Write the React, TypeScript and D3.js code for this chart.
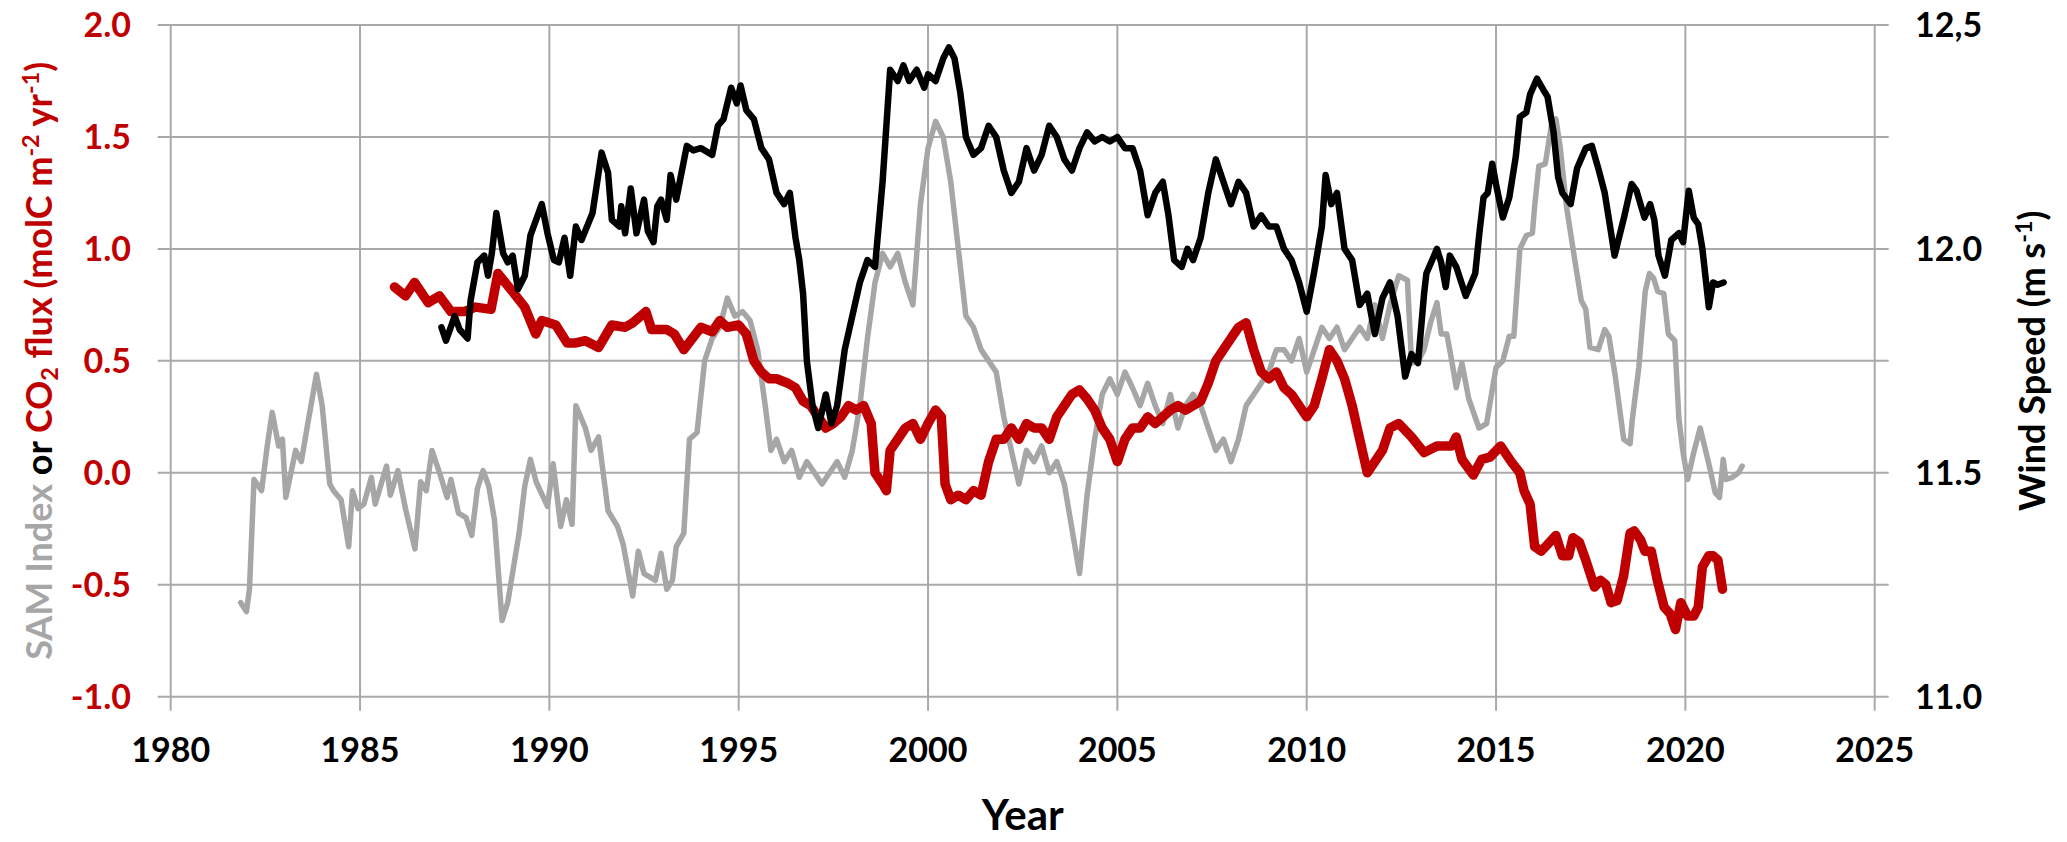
import React from "react";
import * as d3 from "d3";

// ---- Data ----
const yearTicks = [1980, 1985, 1990, 1995, 2000, 2005, 2010, 2015, 2020, 2025];
const leftTicks = [-1.0, -0.5, 0.0, 0.5, 1.0, 1.5, 2.0];
const rightTicks = [11.0, 11.5, 12.0, 12.5];
const rightTickLabels = ["11.0", "11.5", "12.0", "12,5"];

// SAM index (left axis)
const samSeries: [number, number][] = [
  [1981.85, -0.58], [1982.0, -0.62], [1982.08, -0.52], [1982.2, -0.03], [1982.4, -0.08],
  [1982.55, 0.12], [1982.68, 0.27], [1982.85, 0.12], [1982.95, 0.15], [1983.04, -0.11],
  [1983.2, 0.02], [1983.3, 0.1], [1983.45, 0.05], [1983.6, 0.2], [1983.85, 0.44],
  [1984.0, 0.3], [1984.2, -0.05], [1984.3, -0.08], [1984.5, -0.12], [1984.7, -0.33],
  [1984.8, -0.08], [1984.95, -0.16], [1985.1, -0.14], [1985.3, -0.02], [1985.4, -0.14],
  [1985.7, 0.03], [1985.8, -0.1], [1986.0, 0.01], [1986.2, -0.16], [1986.45, -0.34],
  [1986.6, -0.04], [1986.75, -0.08], [1986.9, 0.1], [1987.1, 0.0], [1987.3, -0.11],
  [1987.4, -0.03], [1987.6, -0.18], [1987.8, -0.2], [1987.95, -0.28], [1988.1, -0.07],
  [1988.25, 0.01], [1988.4, -0.06], [1988.55, -0.21], [1988.75, -0.66], [1988.9, -0.58],
  [1989.2, -0.27], [1989.35, -0.06], [1989.5, 0.06], [1989.65, -0.04], [1989.95, -0.15],
  [1990.1, 0.04], [1990.3, -0.24], [1990.45, -0.12], [1990.6, -0.23], [1990.7, 0.3],
  [1990.95, 0.2], [1991.1, 0.1], [1991.3, 0.16], [1991.55, -0.17], [1991.8, -0.24],
  [1991.95, -0.32], [1992.2, -0.55], [1992.35, -0.35], [1992.5, -0.45], [1992.8, -0.48],
  [1992.95, -0.36], [1993.1, -0.52], [1993.25, -0.48], [1993.35, -0.33], [1993.55, -0.27],
  [1993.7, 0.15], [1993.9, 0.18], [1994.1, 0.5], [1994.3, 0.6], [1994.5, 0.65],
  [1994.7, 0.78], [1994.9, 0.7], [1995.1, 0.72], [1995.3, 0.68], [1995.5, 0.55],
  [1995.7, 0.3], [1995.85, 0.1], [1996.0, 0.15], [1996.2, 0.05], [1996.4, 0.1],
  [1996.6, -0.02], [1996.8, 0.05], [1997.0, 0.0], [1997.2, -0.05], [1997.4, 0.0],
  [1997.6, 0.05], [1997.8, -0.02], [1998.0, 0.1], [1998.2, 0.3], [1998.4, 0.6],
  [1998.6, 0.85], [1998.8, 0.98], [1999.0, 0.92], [1999.2, 0.98], [1999.4, 0.85],
  [1999.6, 0.75], [1999.8, 1.2], [2000.0, 1.45], [2000.2, 1.57], [2000.4, 1.5],
  [2000.6, 1.3], [2000.8, 1.0], [2001.0, 0.7], [2001.2, 0.65], [2001.4, 0.55],
  [2001.6, 0.5], [2001.8, 0.45], [2002.0, 0.25], [2002.2, 0.1], [2002.4, -0.05],
  [2002.6, 0.1], [2002.8, 0.05], [2003.0, 0.12], [2003.2, 0.0], [2003.4, 0.05],
  [2003.6, -0.05], [2003.8, -0.25], [2004.0, -0.45], [2004.2, -0.1], [2004.4, 0.15],
  [2004.6, 0.35], [2004.8, 0.42], [2005.0, 0.35], [2005.2, 0.45], [2005.4, 0.38],
  [2005.6, 0.3], [2005.8, 0.4], [2006.0, 0.3], [2006.2, 0.22], [2006.4, 0.35],
  [2006.6, 0.2], [2006.8, 0.3], [2007.0, 0.35], [2007.2, 0.3], [2007.4, 0.2],
  [2007.6, 0.1], [2007.8, 0.15], [2008.0, 0.05], [2008.2, 0.15], [2008.4, 0.3],
  [2008.6, 0.35], [2008.8, 0.4], [2009.0, 0.45], [2009.2, 0.55], [2009.4, 0.55],
  [2009.6, 0.5], [2009.8, 0.6], [2010.0, 0.45], [2010.2, 0.55], [2010.4, 0.65],
  [2010.6, 0.6], [2010.8, 0.65], [2011.0, 0.55], [2011.2, 0.6], [2011.4, 0.65],
  [2011.6, 0.6], [2011.8, 0.75], [2012.0, 0.6], [2012.2, 0.75], [2012.43, 0.88],
  [2012.66, 0.86], [2012.77, 0.49], [2012.95, 0.5], [2013.1, 0.55], [2013.27, 0.67],
  [2013.44, 0.76], [2013.55, 0.62], [2013.7, 0.62], [2013.83, 0.5], [2013.95, 0.38],
  [2014.1, 0.49], [2014.28, 0.33], [2014.55, 0.2], [2014.75, 0.22], [2015.0, 0.47],
  [2015.18, 0.5], [2015.35, 0.61], [2015.47, 0.61], [2015.63, 1.0], [2015.8, 1.06],
  [2015.96, 1.07], [2016.02, 1.19], [2016.13, 1.37], [2016.3, 1.38], [2016.47, 1.56],
  [2016.58, 1.58], [2016.69, 1.46], [2016.86, 1.19], [2017.08, 0.95], [2017.25, 0.77],
  [2017.37, 0.73], [2017.48, 0.56], [2017.7, 0.55], [2017.87, 0.64], [2017.98, 0.61],
  [2018.15, 0.43], [2018.37, 0.15], [2018.54, 0.13], [2018.6, 0.24], [2018.77, 0.47],
  [2018.94, 0.81], [2019.05, 0.89], [2019.16, 0.87], [2019.27, 0.81], [2019.43, 0.8],
  [2019.55, 0.62], [2019.72, 0.59], [2019.83, 0.24], [2019.94, 0.09], [2020.06, -0.03],
  [2020.22, 0.09], [2020.39, 0.2], [2020.62, 0.04], [2020.79, -0.09], [2020.9, -0.11],
  [2021.0, 0.06], [2021.07, -0.03], [2021.24, -0.02], [2021.4, 0.0], [2021.5, 0.03],
];

// CO2 flux (left axis)
const co2Series: [number, number][] = [
  [1985.91, 0.83], [1986.2, 0.79], [1986.44, 0.85], [1986.8, 0.76], [1987.1, 0.79],
  [1987.4, 0.72], [1987.75, 0.72], [1988.05, 0.74], [1988.46, 0.73], [1988.64, 0.89],
  [1988.93, 0.83], [1989.35, 0.74], [1989.64, 0.62], [1989.8, 0.68], [1990.17, 0.66],
  [1990.47, 0.58], [1990.7, 0.58], [1990.95, 0.59], [1991.3, 0.56], [1991.65, 0.66],
  [1992.0, 0.65], [1992.2, 0.67], [1992.55, 0.72], [1992.7, 0.64], [1993.1, 0.64],
  [1993.3, 0.62], [1993.55, 0.55], [1994.0, 0.65], [1994.3, 0.63], [1994.5, 0.68],
  [1994.7, 0.65], [1995.0, 0.66], [1995.2, 0.62], [1995.4, 0.5], [1995.6, 0.45],
  [1995.8, 0.42], [1996.0, 0.42], [1996.3, 0.4], [1996.5, 0.38], [1996.7, 0.32],
  [1996.9, 0.3], [1997.1, 0.25], [1997.3, 0.2], [1997.5, 0.22], [1997.7, 0.25],
  [1997.9, 0.3], [1998.1, 0.28], [1998.3, 0.3], [1998.5, 0.22], [1998.6, 0.0],
  [1998.8, -0.05], [1998.9, -0.08], [1999.0, 0.1], [1999.2, 0.15], [1999.4, 0.2],
  [1999.6, 0.22], [1999.8, 0.15], [2000.0, 0.22], [2000.2, 0.28], [2000.35, 0.25],
  [2000.45, -0.05], [2000.6, -0.12], [2000.8, -0.1], [2001.0, -0.12], [2001.2, -0.08],
  [2001.4, -0.1], [2001.6, 0.05], [2001.8, 0.15], [2002.0, 0.15], [2002.2, 0.2],
  [2002.4, 0.15], [2002.6, 0.22], [2002.8, 0.2], [2003.0, 0.2], [2003.2, 0.15],
  [2003.4, 0.25], [2003.6, 0.3], [2003.8, 0.35], [2004.0, 0.37], [2004.2, 0.33],
  [2004.4, 0.28], [2004.6, 0.2], [2004.8, 0.15], [2005.0, 0.05], [2005.2, 0.15],
  [2005.4, 0.2], [2005.6, 0.2], [2005.8, 0.25], [2006.0, 0.22], [2006.2, 0.25],
  [2006.4, 0.28], [2006.6, 0.3], [2006.8, 0.28], [2007.0, 0.3], [2007.2, 0.32],
  [2007.4, 0.4], [2007.6, 0.5], [2007.8, 0.55], [2008.0, 0.6], [2008.2, 0.65],
  [2008.4, 0.67], [2008.6, 0.55], [2008.8, 0.45], [2009.0, 0.42], [2009.2, 0.45],
  [2009.4, 0.38], [2009.6, 0.35], [2009.8, 0.3], [2010.0, 0.25], [2010.2, 0.3],
  [2010.4, 0.42], [2010.6, 0.55], [2010.8, 0.5], [2011.0, 0.42], [2011.2, 0.3],
  [2011.4, 0.15], [2011.6, 0.0], [2011.8, 0.05], [2012.0, 0.1], [2012.2, 0.2],
  [2012.43, 0.22], [2012.77, 0.16], [2013.1, 0.09], [2013.44, 0.12], [2013.83, 0.12],
  [2013.95, 0.16], [2014.1, 0.06], [2014.4, -0.01], [2014.62, 0.06], [2014.84, 0.07],
  [2015.12, 0.12], [2015.4, 0.05], [2015.63, 0.0], [2015.74, -0.08], [2015.9, -0.14],
  [2016.02, -0.33], [2016.19, -0.35], [2016.36, -0.32], [2016.58, -0.28], [2016.75, -0.37],
  [2016.92, -0.37], [2017.03, -0.29], [2017.2, -0.31], [2017.37, -0.39], [2017.6, -0.51],
  [2017.76, -0.48], [2017.9, -0.5], [2018.04, -0.58], [2018.2, -0.57], [2018.37, -0.46],
  [2018.54, -0.27], [2018.65, -0.26], [2018.82, -0.3], [2018.93, -0.35], [2019.1, -0.35],
  [2019.26, -0.48], [2019.44, -0.6], [2019.6, -0.63], [2019.74, -0.7], [2019.88, -0.58],
  [2020.06, -0.64], [2020.22, -0.64], [2020.34, -0.6], [2020.45, -0.42], [2020.62, -0.37],
  [2020.73, -0.37], [2020.86, -0.39], [2020.98, -0.52],
];

// Wind speed (right axis, m/s)
const windSeries: [number, number][] = [
  [1987.15, 11.825], [1987.27, 11.795], [1987.5, 11.85], [1987.63, 11.82], [1987.84, 11.8],
  [1987.92, 11.885], [1988.1, 11.97], [1988.28, 11.985], [1988.38, 11.94], [1988.48, 11.99],
  [1988.6, 12.08], [1988.78, 11.99], [1988.9, 11.97], [1989.03, 11.985], [1989.17, 11.91],
  [1989.35, 11.94], [1989.5, 12.03], [1989.8, 12.1], [1989.95, 12.035], [1990.12, 11.975],
  [1990.25, 11.97], [1990.4, 12.025], [1990.55, 11.94], [1990.7, 12.05], [1990.85, 12.02],
  [1991.14, 12.08], [1991.38, 12.215], [1991.55, 12.17], [1991.65, 12.065], [1991.85, 12.05],
  [1991.9, 12.095], [1992.0, 12.035], [1992.15, 12.135], [1992.3, 12.035], [1992.5, 12.11],
  [1992.6, 12.04], [1992.75, 12.015], [1992.85, 12.095], [1992.95, 12.11], [1993.1, 12.065],
  [1993.2, 12.165], [1993.35, 12.11], [1993.63, 12.23], [1993.8, 12.22], [1994.0, 12.225],
  [1994.3, 12.21], [1994.45, 12.275], [1994.6, 12.29], [1994.8, 12.36], [1994.95, 12.325],
  [1995.05, 12.365], [1995.2, 12.31], [1995.4, 12.29], [1995.6, 12.225], [1995.8, 12.2],
  [1996.0, 12.125], [1996.2, 12.1], [1996.35, 12.125], [1996.5, 12.025], [1996.6, 11.975],
  [1996.7, 11.9], [1996.8, 11.75], [1996.95, 11.65], [1997.1, 11.6], [1997.3, 11.675],
  [1997.45, 11.61], [1997.6, 11.65], [1997.8, 11.775], [1998.0, 11.85], [1998.2, 11.925],
  [1998.4, 11.975], [1998.6, 11.96], [1998.8, 12.15], [1999.0, 12.4], [1999.2, 12.375],
  [1999.35, 12.41], [1999.5, 12.375], [1999.7, 12.4], [1999.9, 12.36], [2000.0, 12.39],
  [2000.2, 12.375], [2000.4, 12.425], [2000.55, 12.45], [2000.7, 12.425], [2000.85, 12.35],
  [2001.0, 12.25], [2001.2, 12.21], [2001.4, 12.225], [2001.6, 12.275], [2001.8, 12.25],
  [2002.0, 12.175], [2002.2, 12.125], [2002.4, 12.15], [2002.6, 12.225], [2002.8, 12.175],
  [2003.0, 12.21], [2003.2, 12.275], [2003.4, 12.25], [2003.6, 12.2], [2003.8, 12.175],
  [2004.0, 12.225], [2004.2, 12.26], [2004.4, 12.24], [2004.6, 12.25], [2004.8, 12.24],
  [2005.0, 12.25], [2005.2, 12.225], [2005.4, 12.225], [2005.6, 12.175], [2005.8, 12.075],
  [2006.0, 12.125], [2006.2, 12.15], [2006.35, 12.075], [2006.5, 11.975], [2006.7, 11.96],
  [2006.85, 12.0], [2007.0, 11.975], [2007.2, 12.025], [2007.4, 12.125], [2007.6, 12.2],
  [2007.8, 12.15], [2008.0, 12.1], [2008.2, 12.15], [2008.4, 12.125], [2008.6, 12.05],
  [2008.8, 12.075], [2009.0, 12.05], [2009.2, 12.05], [2009.4, 12.0], [2009.6, 11.975],
  [2009.8, 11.925], [2010.0, 11.86], [2010.2, 11.95], [2010.4, 12.05], [2010.5, 12.165],
  [2010.65, 12.1], [2010.8, 12.125], [2011.0, 12.0], [2011.2, 11.975], [2011.4, 11.875],
  [2011.6, 11.9], [2011.8, 11.81], [2012.0, 11.89], [2012.2, 11.925], [2012.4, 11.85],
  [2012.6, 11.715], [2012.77, 11.765], [2012.94, 11.745], [2013.1, 11.9], [2013.16, 11.945],
  [2013.44, 12.0], [2013.55, 11.97], [2013.67, 11.915], [2013.78, 11.985], [2013.95, 11.96],
  [2014.2, 11.895], [2014.45, 11.945], [2014.56, 12.035], [2014.67, 12.115], [2014.78, 12.125],
  [2014.9, 12.19], [2015.01, 12.14], [2015.18, 12.07], [2015.35, 12.115], [2015.52, 12.205],
  [2015.63, 12.295], [2015.8, 12.305], [2015.9, 12.345], [2016.08, 12.38], [2016.25, 12.355],
  [2016.36, 12.34], [2016.52, 12.26], [2016.64, 12.16], [2016.75, 12.125], [2016.97, 12.1],
  [2017.14, 12.18], [2017.37, 12.225], [2017.53, 12.23], [2017.7, 12.18], [2017.87, 12.125],
  [2018.04, 12.035], [2018.13, 11.985], [2018.38, 12.07], [2018.58, 12.145], [2018.71, 12.13],
  [2018.92, 12.07], [2019.07, 12.1], [2019.18, 12.065], [2019.29, 11.985], [2019.46, 11.94],
  [2019.63, 12.02], [2019.83, 12.035], [2019.94, 12.015], [2020.09, 12.13], [2020.22, 12.07],
  [2020.34, 12.055], [2020.45, 12.0], [2020.62, 11.87], [2020.73, 11.925], [2020.85, 11.92],
  [2021.01, 11.925],
];

// ---- Styles ----
const W = 2067;
const H = 842;
const RED = "#C00000";
const GRAY = "#A6A6A6";
const GRID = "#A9A9A9";
const FONT = "Lato, 'Open Sans', sans-serif";

export default function App() {
  const m = { left: 170.7, right: 1874.7, top: 25, bottom: 696.7 };
  const x = d3.scaleLinear().domain([1980, 2025]).range([m.left, m.right]);
  const yL = d3.scaleLinear().domain([-1, 2]).range([m.bottom, m.top]);
  const yR = d3.scaleLinear().domain([11, 12.5]).range([m.bottom, m.top]);

  const lineL = d3.line<[number, number]>().x((d) => x(d[0])).y((d) => yL(d[1]));
  const lineR = d3.line<[number, number]>().x((d) => x(d[0])).y((d) => yR(d[1]));

  const fs = 34;
  const titleFs = 36;
  const midY = (m.top + m.bottom) / 2;

  return (
    <svg
      width={W}
      height={H}
      style={{ position: "absolute", left: 0, top: 0, background: "#fff" }}
      fontFamily={FONT}
      fontWeight="bold"
    >
      <rect x={0} y={0} width={W} height={H} fill="#fff" />
      {/* horizontal gridlines */}
      {leftTicks.map((t) => (
        <line key={"h" + t} x1={m.left - 13} x2={m.right + 14} y1={yL(t)} y2={yL(t)} stroke={GRID} strokeWidth={2} />
      ))}
      {/* vertical gridlines */}
      {yearTicks.map((t) => (
        <line key={"v" + t} x1={x(t)} x2={x(t)} y1={m.top} y2={m.bottom + 14} stroke={GRID} strokeWidth={2} />
      ))}

      {/* series */}
      <path d={lineL(samSeries) || ""} fill="none" stroke={GRAY} strokeWidth={5.5} strokeLinejoin="round" strokeLinecap="round" />
      <path d={lineL(co2Series) || ""} fill="none" stroke={RED} strokeWidth={9.5} strokeLinejoin="round" strokeLinecap="round" />
      <path d={lineR(windSeries) || ""} fill="none" stroke="#000" strokeWidth={6.5} strokeLinejoin="round" strokeLinecap="round" />

      {/* left tick labels */}
      {leftTicks.map((t) => (
        <text key={"lt" + t} x={131} y={yL(t) + 12} textAnchor="end" fill={RED} fontSize={fs}>
          {t.toFixed(1)}
        </text>
      ))}
      {/* right tick labels */}
      {rightTicks.map((t, i) => (
        <text key={"rt" + t} x={1915} y={yR(t) + 12} textAnchor="start" fill="#000" fontSize={fs}>
          {rightTickLabels[i]}
        </text>
      ))}
      {/* x tick labels */}
      {yearTicks.map((t) => (
        <text key={"xt" + t} x={x(t)} y={762} textAnchor="middle" fill="#000" fontSize={fs}>
          {t}
        </text>
      ))}

      {/* x title */}
      <text x={(m.left + m.right) / 2} y={830} textAnchor="middle" fill="#000" fontSize={42}>
        Year
      </text>

      {/* left title */}
      <text
        transform={`translate(52, ${midY}) rotate(-90)`}
        textAnchor="middle"
        fontSize={titleFs}
      >
        <tspan fill={GRAY}>SAM Index</tspan>
        <tspan fill="#000"> or </tspan>
        <tspan fill={RED}>CO</tspan>
        <tspan fill={RED} fontSize={titleFs * 0.65} dy={6}>2</tspan>
        <tspan fill={RED} dy={-6}> flux (molC m</tspan>
        <tspan fill={RED} fontSize={titleFs * 0.65} dy={-13}>-2</tspan>
        <tspan fill={RED} dy={13}> yr</tspan>
        <tspan fill={RED} fontSize={titleFs * 0.65} dy={-13}>-1</tspan>
        <tspan fill={RED} dy={13}>)</tspan>
      </text>

      {/* right title */}
      <text
        transform={`translate(2045, ${midY}) rotate(-90)`}
        textAnchor="middle"
        fontSize={titleFs}
        fill="#000"
      >
        <tspan>Wind Speed (m s</tspan>
        <tspan fontSize={titleFs * 0.65} dy={-13}>-1</tspan>
        <tspan dy={13}>)</tspan>
      </text>
    </svg>
  );
}
